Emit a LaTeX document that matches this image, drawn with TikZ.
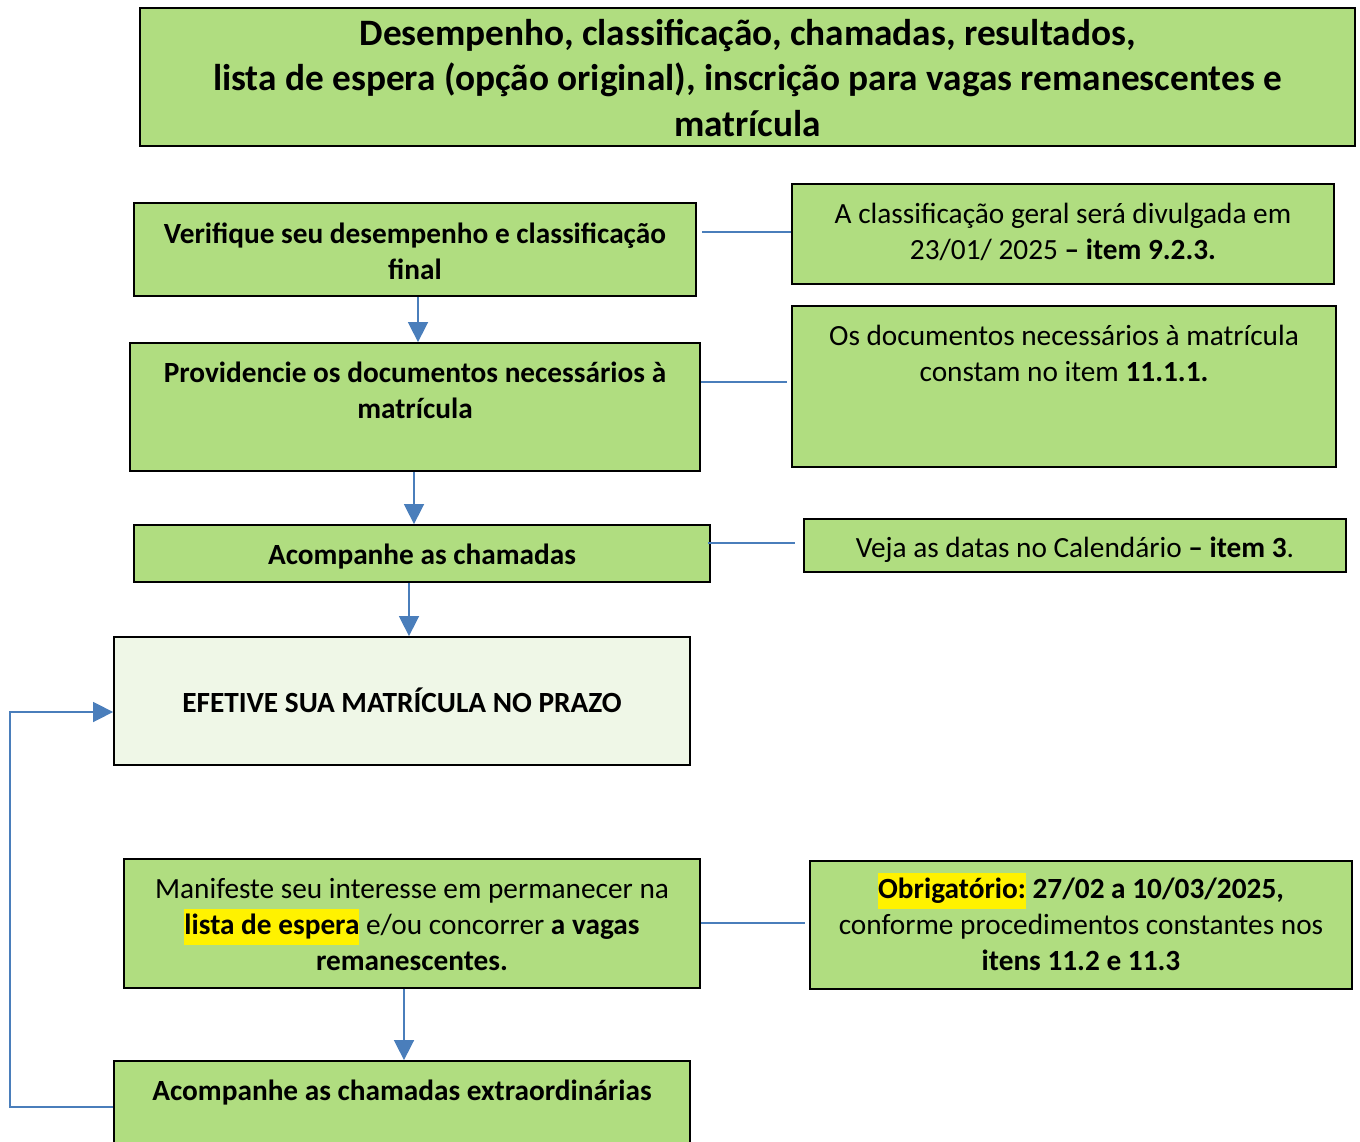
\documentclass[tikz,border=0pt]{standalone}
\usepackage{fontspec}
\setmainfont{Carlito}
\usetikzlibrary{arrows.meta}
\definecolor{boxgreen}{RGB}{176,221,128}
\definecolor{palegreen}{RGB}{239,247,231}
\definecolor{linkblue}{RGB}{74,126,187}
\newcommand{\hlt}[1]{{\setlength{\fboxsep}{0pt}\colorbox{yellow}{\strut #1}}}
\begin{document}
\begin{tikzpicture}[x=1pt,y=-1pt,
  box/.style={draw=black,line width=1.8pt,fill=boxgreen,rectangle,inner sep=0pt},
  lightbox/.style={draw=black,line width=1.8pt,fill=palegreen,rectangle,inner sep=0pt},
  txt/.style={align=center,inner sep=0pt,font=\fontsize{29.3}{36}\selectfont},
  btxt/.style={txt,font=\fontsize{29.3}{36}\selectfont\bfseries},
  ttl/.style={align=center,inner sep=0pt,font=\fontsize{37.3}{45.5}\selectfont\bfseries},
  link/.style={draw=linkblue,line width=1.6pt},
  flow/.style={draw=linkblue,line width=1.6pt,-{Triangle[width=20pt,length=20pt]}}]
\useasboundingbox (0,0) rectangle (1360,1142);
\clip (0,0) rectangle (1360,1142);
% boxes
\node[box,minimum width=1215pt,minimum height=138pt] (title) at (747.5,77) {};
\node[ttl] (titlet) at (747.5,78) {Desempenho, classificação, chamadas, resultados,\\lista de espera (opção original), inscrição para vagas remanescentes e\\matrícula};

\node[box,minimum width=562pt,minimum height=93pt] (b1) at (415,249.5) {};
\node[btxt] (b1t) at (415,251) {Verifique seu desempenho e classificação\\final};

\node[box,minimum width=542pt,minimum height=100pt] (n1) at (1063,234) {};
\node[txt] (n1t) at (1063,232) {A classificação geral será divulgada em\\23/01/ 2025 \textbf{– item 9.2.3.}};

\node[box,minimum width=570pt,minimum height=128pt] (b2) at (415,407) {};
\node[btxt] (b2t) at (415,390) {Providencie os documentos necessários à\\matrícula};

\node[box,minimum width=544pt,minimum height=161pt] (n2) at (1064,386.5) {};
\node[txt] (n2t) at (1064,353) {Os documentos necessários à matrícula\\constam no item \textbf{11.1.1.}};

\node[box,minimum width=576pt,minimum height=57pt] (b3) at (422,553.5) {};
\node[btxt] (b3t) at (422,557) {Acompanhe as chamadas};

\node[box,minimum width=542pt,minimum height=53pt] (n3) at (1075,545.5) {};
\node[txt] (n3t) at (1075,550) {Veja as datas no Calendário \textbf{– item 3}.};

\node[lightbox,minimum width=576pt,minimum height=128pt] (b4) at (402,701) {};
\node[btxt] (b4t) at (402,700) {EFETIVE SUA MATRÍCULA NO PRAZO};

\node[box,minimum width=576pt,minimum height=129pt] (b5) at (412,923.5) {};
\node[txt] (b5t) at (412,924.5) {Manifeste seu interesse em permanecer na\\\hlt{\textbf{lista de espera}} e/ou concorrer \textbf{a vagas}\\\textbf{remanescentes.}};

\node[box,minimum width=542pt,minimum height=128pt] (n5) at (1081,925) {};
\node[txt] (n5t) at (1081,922) {\hlt{\textbf{Obrigatório:}} \textbf{27/02 a 10/03/2025,}\\conforme procedimentos constantes nos\\\textbf{itens 11.2 e 11.3}};

\node[box,minimum width=576pt,minimum height=140pt] (b6) at (402,1131) {};
\node[btxt] (b6t) at (402,1093) {Acompanhe as chamadas extraordinárias};

% side links
\draw[link] ([xshift=5pt]b1.east |- 0,232) -- (n1.west |- 0,232);
\draw[link] (b2.east |- 0,382) -- ([xshift=-4pt]n2.west |- 0,382);
\draw[link] ([xshift=-3pt]b3.east |- 0,543) -- ([xshift=-8pt]n3.west |- 0,543);
\draw[link] (b5.east |- 0,923) -- ([xshift=-4pt]n5.west |- 0,923);

% flow arrows
\draw[flow] (b1.south -| 418,0) -- (b2.north -| 418,0);
\draw[flow] (b2.south -| 414,0) -- (b3.north -| 414,0);
\draw[flow] (b3.south -| 409,0) -- (b4.north -| 409,0);
\draw[flow] (b5.south -| 404,0) -- (b6.north -| 404,0);

% loop back
\coordinate (lp1) at (10,1107);
\coordinate (lp2) at (10,712);
\draw[flow] (b6.west |- lp1) -- (lp1) -- (lp2) -- (b4.west |- lp2);
\end{tikzpicture}
\end{document}
